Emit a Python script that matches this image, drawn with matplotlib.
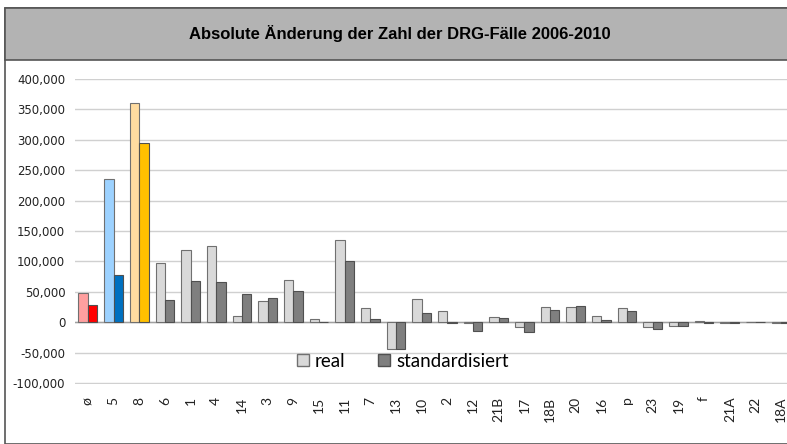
import numpy as np
import matplotlib.pyplot as plt
from matplotlib.patches import Rectangle
from matplotlib.ticker import FuncFormatter
from matplotlib import font_manager

# data
categories = ["ø", "5", "8", "6", "1", "4", "14", "3", "9", "15", "11", "7", "13", "10",
              "2", "12", "21B", "17", "18B", "20", "16", "p", "23", "19", "f", "21A", "22", "18A"]
real = [48000, 235000, 360000, 97000, 119000, 126000, 11000, 35000, 69000, 5000, 135000,
        24000, -44000, 38000, 18000, -2000, 8000, -7000, 25000, 25000, 11000, 23000,
        -8000, -6000, 2000, -1000, 1000, -1000]
standard = [28000, 78000, 295000, 37000, 68000, 67000, 47000, 40000, 51000, 1000, 101000,
            6000, -44000, 16000, -1000, -15000, 7000, -16000, 20000, 26000, 4000, 18000,
            -11000, -6000, -1000, -1000, 1000, -1000]

real_colors = ["#FF9F9F", "#9DD2FF", "#FFDCA0"] + ["#D9D9D9"] * (len(categories) - 3)
std_colors = ["#FF0000", "#0070C0", "#FFC000"] + ["#7F7F7F"] * (len(categories) - 3)

names = {f.name for f in font_manager.fontManager.ttflist}
body_font = "Lato" if "Lato" in names else "DejaVu Sans"
title_font = "Liberation Sans Narrow" if "Liberation Sans Narrow" in names else "Liberation Sans"

fig = plt.figure(figsize=(7.87, 4.44), dpi=100)

# outer frame and grey title band (behind the axes)
fig.patches.append(Rectangle((5 / 787, 0), 1, 436 / 444, transform=fig.transFigure,
                             facecolor="white", edgecolor="#555555", lw=1.2, zorder=-2))
fig.patches.append(Rectangle((5 / 787, 384 / 444), 1, 52 / 444, transform=fig.transFigure,
                             facecolor="#B3B3B3", edgecolor="#555555", lw=1.2, zorder=-1))
fig.text(400 / 787, 1 - 34 / 444, "Absolute Änderung der Zahl der DRG-Fälle 2006-2010",
         ha="center", va="center", fontsize=12, fontweight="bold", family=title_font)

ax = fig.add_axes([75 / 787, 1 - 384 / 444, 719 / 787, 305 / 444])
ax.set_facecolor("none")

x = np.arange(len(categories))
w = 0.365
ax.bar(x - w / 2, real, w, color=real_colors, edgecolor="#707070", lw=0.8, label="real", zorder=3)
ax.bar(x + w / 2, standard, w, color=std_colors, edgecolor="#505050", lw=0.8,
       label="standardisiert", zorder=3)

ax.set_xlim(-0.5, len(categories) - 0.5)
ax.set_ylim(-101500, 400000)
ax.set_yticks(np.arange(-100000, 400001, 50000))
ax.yaxis.set_major_formatter(FuncFormatter(lambda v, p: f"{int(v):,}"))
ax.grid(axis="y", color="#D0D0D0", lw=1, zorder=0)
ax.axhline(0, color="#A0A0A0", lw=1, zorder=2)
for s in ax.spines.values():
    s.set_visible(False)
ax.tick_params(axis="both", length=0, colors="#222222")
ax.tick_params(axis="y", pad=7, labelsize=8.5)
ax.tick_params(axis="x", pad=9)
ax.set_xticks(x)
ax.set_xticklabels(categories, rotation=90, fontsize=10, family=body_font)

# legend uses the grey colours
h_real = Rectangle((0, 0), 1, 1, facecolor="#D9D9D9", edgecolor="#707070")
h_std = Rectangle((0, 0), 1, 1, facecolor="#7F7F7F", edgecolor="#505050")
ax.legend([h_real, h_std], ["real", "standardisiert"], loc="center", ncol=2,
          bbox_to_anchor=(0.456, 0.075), frameon=False, handlelength=0.64, handleheight=0.64,
          columnspacing=1.76, handletextpad=0.32, borderpad=0,
          prop={"family": body_font, "size": 13.5})

fig.savefig("out.png", dpi=100)
